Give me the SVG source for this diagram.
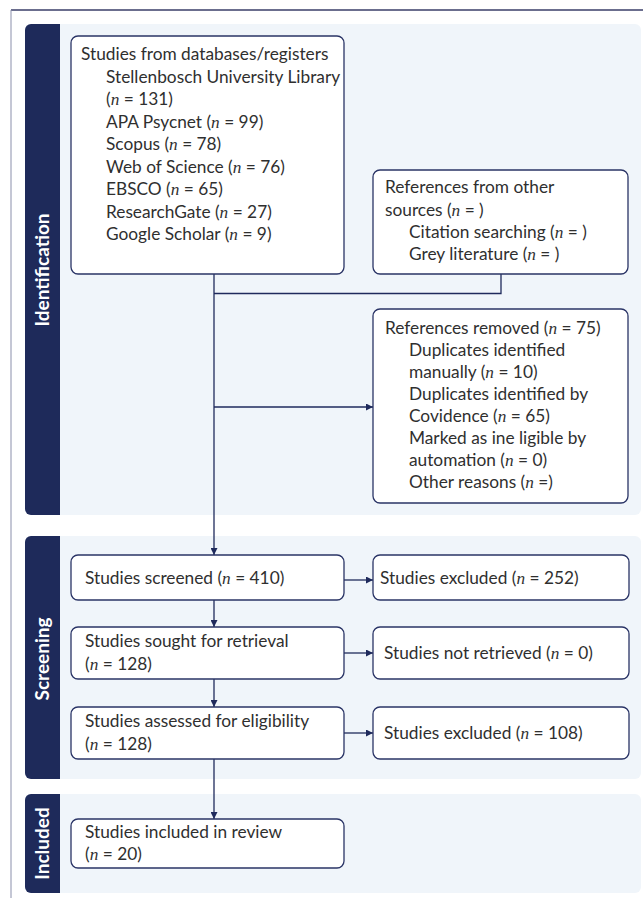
<svg xmlns="http://www.w3.org/2000/svg" width="643" height="898" viewBox="0 0 643 898">
<defs>
<marker id="arr" viewBox="0 0 10 10" refX="10" refY="5" markerWidth="7" markerHeight="7" markerUnits="userSpaceOnUse" orient="auto">
<path d="M0,0 L10,5 L0,10 z" fill="#1f2a5c"/>
</marker>
<style>
.sec{fill:#f0f5fa}
.bar{fill:#1e2a5a}
.lab{font-family:Lato,"Open Sans",sans-serif;font-weight:bold;font-size:19px;fill:#ffffff}
.box{fill:#ffffff;stroke:#2a3466;stroke-width:1.3}
.t{font-family:Lato,"Liberation Sans",sans-serif;font-size:17.3px;fill:#2f2f2f}
.n{font-family:"Liberation Serif",serif;font-style:italic}
.ln{fill:none;stroke:#1f2a5c;stroke-width:1.3}
</style>
</defs>
<rect width="643" height="898" fill="#ffffff"/>
<line x1="11" y1="10" x2="643" y2="10" stroke="#3a3e68" stroke-width="1.6"/>
<line x1="11" y1="10" x2="11" y2="898" stroke="#8a8fab" stroke-width="1"/>

<g id="sec-identification">
<rect class="sec" x="25" y="24" width="616" height="491" rx="6"/>
<path class="bar" d="M31,24 H60 V515 H31 A6,6 0 0 1 25,509 V30 A6,6 0 0 1 31,24 z"/>
<text class="lab" transform="translate(48.5,270) rotate(-90)" text-anchor="middle">Identification</text>
</g>
<g id="sec-screening">
<rect class="sec" x="25" y="536" width="616" height="243" rx="6"/>
<path class="bar" d="M31,536 H60 V779 H31 A6,6 0 0 1 25,773 V542 A6,6 0 0 1 31,536 z"/>
<text class="lab" transform="translate(48.5,659) rotate(-90)" text-anchor="middle">Screening</text>
</g>
<g id="sec-included">
<rect class="sec" x="25" y="794" width="616" height="99" rx="6"/>
<path class="bar" d="M31,794 H60 V893 H31 A6,6 0 0 1 25,887 V800 A6,6 0 0 1 31,794 z"/>
<text class="lab" transform="translate(48.5,843.5) rotate(-90)" text-anchor="middle">Included</text>
</g>

<g id="connectors">
<line class="ln" x1="214" y1="274" x2="214" y2="555" marker-end="url(#arr)"/>
<polyline class="ln" points="501,274 501,293.5 214,293.5"/>
<line class="ln" x1="214" y1="407" x2="373" y2="407" marker-end="url(#arr)"/>
<line class="ln" x1="344" y1="580" x2="373" y2="580" marker-end="url(#arr)"/>
<line class="ln" x1="214" y1="600" x2="214" y2="627" marker-end="url(#arr)"/>
<line class="ln" x1="344" y1="653" x2="373" y2="653" marker-end="url(#arr)"/>
<line class="ln" x1="214" y1="679" x2="214" y2="707" marker-end="url(#arr)"/>
<line class="ln" x1="344" y1="733" x2="373" y2="733" marker-end="url(#arr)"/>
<line class="ln" x1="214" y1="759" x2="214" y2="819" marker-end="url(#arr)"/>
</g>

<g id="databases">
<rect class="box" x="71" y="36" width="273" height="238" rx="7"/>
<text class="t" x="81" y="60">Studies from databases/registers</text>
<text class="t" x="106" y="82.5">Stellenbosch University Library</text>
<text class="t" x="106" y="105">(<tspan class="n">n</tspan> = 131)</text>
<text class="t" x="106" y="127.5">APA Psycnet (<tspan class="n">n</tspan> = 99)</text>
<text class="t" x="106" y="150">Scopus (<tspan class="n">n</tspan> = 78)</text>
<text class="t" x="106" y="172.5">Web of Science (<tspan class="n">n</tspan> = 76)</text>
<text class="t" x="106" y="195">EBSCO (<tspan class="n">n</tspan> = 65)</text>
<text class="t" x="106" y="217.5">ResearchGate (<tspan class="n">n</tspan> = 27)</text>
<text class="t" x="106" y="240">Google Scholar (<tspan class="n">n</tspan> = 9)</text>
</g>

<g id="other-sources">
<rect class="box" x="373" y="170" width="255" height="104" rx="7"/>
<text class="t" x="385" y="193">References from other</text>
<text class="t" x="385" y="215.5">sources (<tspan class="n">n</tspan> = )</text>
<text class="t" x="409" y="238">Citation searching (<tspan class="n">n</tspan> = )</text>
<text class="t" x="409" y="260">Grey literature (<tspan class="n">n</tspan> = )</text>
</g>

<g id="removed">
<rect class="box" x="373" y="309" width="255" height="194" rx="7"/>
<text class="t" x="385" y="334">References removed (<tspan class="n">n</tspan> = 75)</text>
<text class="t" x="409" y="356">Duplicates identified</text>
<text class="t" x="409" y="378">manually (<tspan class="n">n</tspan> = 10)</text>
<text class="t" x="409" y="400">Duplicates identified by</text>
<text class="t" x="409" y="422">Covidence (<tspan class="n">n</tspan> = 65)</text>
<text class="t" x="409" y="444">Marked as ine ligible by</text>
<text class="t" x="409" y="466">automation (<tspan class="n">n</tspan> = 0)</text>
<text class="t" x="409" y="488">Other reasons (<tspan class="n">n</tspan> =)</text>
</g>

<g id="screened">
<rect class="box" x="71" y="555" width="273" height="45" rx="7"/>
<text class="t" x="85" y="583.5">Studies screened (<tspan class="n">n</tspan> = 410)</text>
</g>
<g id="excluded1">
<rect class="box" x="373" y="555" width="256" height="45" rx="7"/>
<text class="t" x="380" y="583.5">Studies excluded (<tspan class="n">n</tspan> = 252)</text>
</g>
<g id="sought">
<rect class="box" x="71" y="627" width="273" height="52" rx="7"/>
<text class="t" x="85" y="647">Studies sought for retrieval</text>
<text class="t" x="85" y="670">(<tspan class="n">n</tspan> = 128)</text>
</g>
<g id="not-retrieved">
<rect class="box" x="373" y="627" width="256" height="52" rx="7"/>
<text class="t" x="384" y="659">Studies not retrieved (<tspan class="n">n</tspan> = 0)</text>
</g>
<g id="assessed">
<rect class="box" x="71" y="707" width="273" height="52" rx="7"/>
<text class="t" x="85" y="727">Studies assessed for eligibility</text>
<text class="t" x="85" y="749.5">(<tspan class="n">n</tspan> = 128)</text>
</g>
<g id="excluded2">
<rect class="box" x="373" y="707" width="256" height="52" rx="7"/>
<text class="t" x="384" y="739">Studies excluded (<tspan class="n">n</tspan> = 108)</text>
</g>
<g id="included">
<rect class="box" x="71" y="819" width="273" height="49" rx="7"/>
<text class="t" x="85" y="838">Studies included in review</text>
<text class="t" x="85" y="860">(<tspan class="n">n</tspan> = 20)</text>
</g>
</svg>
